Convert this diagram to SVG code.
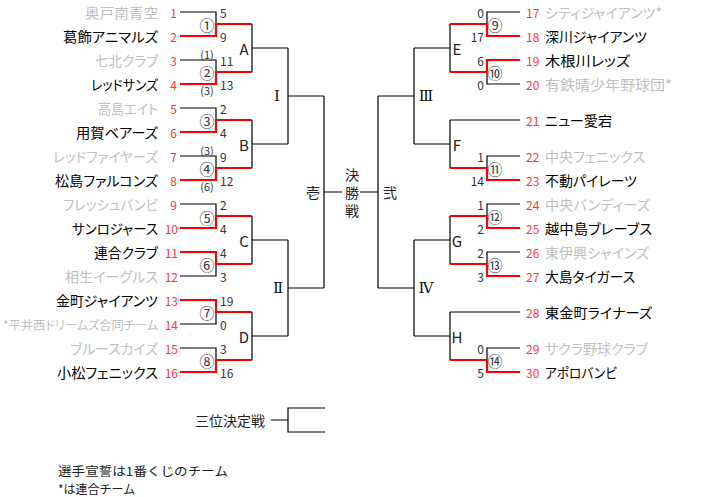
<svg xmlns="http://www.w3.org/2000/svg" width="703" height="497" viewBox="0 0 703 497">
<style>
text{font-family:"Noto Sans CJK JP","Noto Sans",sans-serif;dominant-baseline:central}
.nm{font-size:14px;fill:#000;font-feature-settings:"palt"}
.ls{fill:#c0c0c0}
.l{text-anchor:end}
.no{font-size:12px;fill:#ff3333}
.sc{font-size:12px;fill:#333}
.ci{font-size:15px;fill:#333;text-anchor:middle}
.pa{font-size:11px;fill:#333;text-anchor:middle}
.gl{font-size:15px;fill:#222;text-anchor:middle}
.rn{font-family:"DejaVu Serif","Liberation Serif",serif;font-size:15px;fill:#111;text-anchor:middle}
.k{font-size:14px;fill:#222;text-anchor:middle}
.lg{font-size:12px;fill:#222}
.bk{fill:none;stroke:#000;stroke-width:1.2}
.rd{fill:none;stroke:#ff0000;stroke-width:2.2}
</style>
<rect width="703" height="497" fill="#fff"/>
<g id="connectors">
<path class="bk" d="M180,12H216V24 M180,60H216V72 M180,108H216V120 M180,156H216V168 M180,204H216V216 M180,276H216V264 M180,324H216V312 M180,348H216V360"/>
<path class="bk" d="M252,24V72 M252,120V168 M252,216V264 M252,312V360 M252,48H288 M252,144H288 M252,240H288 M252,336H288 M288,48V144 M288,240V336 M288,96H324 M288,288H324 M324,96V288 M324,192H342 M360,192H378 M378,96V288"/>
<path class="rd" d="M180,36H216V24H252 M180,84H216V72H252 M180,132H216V120H252 M180,180H216V168H252 M180,228H216V216H252 M180,252H216V264H252 M180,300H216V312H252 M180,372H216V360H252"/>
<path class="bk" d="M520,12H487V24 M520,84H487V72 M520,156H487V168 M520,204H487V216 M520,252H487V264 M520,348H487V360 M520,120H450 M520,312H450"/>
<path class="bk" d="M450,24V72 M450,120V168 M450,216V264 M450,312V360 M450,48H414 M450,144H414 M450,240H414 M450,336H414 M414,48V144 M414,240V336 M414,96H378 M414,288H378"/>
<path class="rd" d="M520,36H487V24H450 M520,60H487V72H450 M520,180H487V168H450 M520,228H487V216H450 M520,276H487V264H450 M520,372H487V360H450"/>
<path class="bk" d="M271,420H288 M325,408H288V432H325"/>
</g>
<g id="left-teams">
<g id="t1"><text class="nm ls l" x="158" y="12" textLength="73" lengthAdjust="spacingAndGlyphs">奥戸南青空</text><text class="no l" x="177" y="12">1</text></g>
<g id="t2"><text class="nm l" x="158" y="36" textLength="95" lengthAdjust="spacingAndGlyphs">葛飾アニマルズ</text><text class="no l" x="177" y="36">2</text></g>
<g id="t3"><text class="nm ls l" x="158" y="60" textLength="63" lengthAdjust="spacingAndGlyphs">七北クラブ</text><text class="no l" x="177" y="60">3</text></g>
<g id="t4"><text class="nm l" x="158" y="84" textLength="67" lengthAdjust="spacingAndGlyphs">レッドサンズ</text><text class="no l" x="177" y="84">4</text></g>
<g id="t5"><text class="nm ls l" x="158" y="108" textLength="60" lengthAdjust="spacingAndGlyphs">高島エイト</text><text class="no l" x="177" y="108">5</text></g>
<g id="t6"><text class="nm l" x="158" y="132" textLength="82" lengthAdjust="spacingAndGlyphs">用賀ベアーズ</text><text class="no l" x="177" y="132">6</text></g>
<g id="t7"><text class="nm ls l" x="158" y="156" textLength="105" lengthAdjust="spacingAndGlyphs">レッドファイヤーズ</text><text class="no l" x="177" y="156">7</text></g>
<g id="t8"><text class="nm l" x="158" y="180" textLength="103" lengthAdjust="spacingAndGlyphs">松島ファルコンズ</text><text class="no l" x="177" y="180">8</text></g>
<g id="t9"><text class="nm ls l" x="158" y="204" textLength="95" lengthAdjust="spacingAndGlyphs">フレッシュバンビ</text><text class="no l" x="177" y="204">9</text></g>
<g id="t10"><text class="nm l" x="158" y="228" textLength="86" lengthAdjust="spacingAndGlyphs">サンロジャース</text><text class="no l" x="178" y="228">10</text></g>
<g id="t11"><text class="nm l" x="158" y="252" textLength="64" lengthAdjust="spacingAndGlyphs">連合クラブ</text><text class="no l" x="178" y="252">11</text></g>
<g id="t12"><text class="nm ls l" x="158" y="276" textLength="93" lengthAdjust="spacingAndGlyphs">相生イーグルス</text><text class="no l" x="178" y="276">12</text></g>
<g id="t13"><text class="nm l" x="158" y="300" textLength="102" lengthAdjust="spacingAndGlyphs">金町ジャイアンツ</text><text class="no l" x="178" y="300">13</text></g>
<g id="t14"><text class="nm ls l" x="158" y="324" textLength="155" lengthAdjust="spacingAndGlyphs" style="font-size:12.5px">*平井西ドリームズ合同チーム</text><text class="no l" x="178" y="324">14</text></g>
<g id="t15"><text class="nm ls l" x="158" y="348" textLength="88" lengthAdjust="spacingAndGlyphs">ブルースカイズ</text><text class="no l" x="178" y="348">15</text></g>
<g id="t16"><text class="nm l" x="158" y="372" textLength="101" lengthAdjust="spacingAndGlyphs">小松フェニックス</text><text class="no l" x="178" y="372">16</text></g>
</g>
<g id="right-teams">
<g id="t17"><text class="no" x="526" y="12">17</text><text class="nm ls" x="545" y="12" textLength="117" lengthAdjust="spacingAndGlyphs">シティジャイアンツ*</text></g>
<g id="t18"><text class="no" x="526" y="36">18</text><text class="nm" x="545" y="36" textLength="102" lengthAdjust="spacingAndGlyphs">深川ジャイアンツ</text></g>
<g id="t19"><text class="no" x="526" y="60">19</text><text class="nm" x="545" y="60" textLength="85" lengthAdjust="spacingAndGlyphs">木根川レッズ</text></g>
<g id="t20"><text class="no" x="526" y="84">20</text><text class="nm ls" x="545" y="84" textLength="127" lengthAdjust="spacingAndGlyphs">有鉄晴少年野球団*</text></g>
<g id="t21"><text class="no" x="526" y="120">21</text><text class="nm" x="545" y="120" textLength="67" lengthAdjust="spacingAndGlyphs">ニュー愛宕</text></g>
<g id="t22"><text class="no" x="526" y="156">22</text><text class="nm ls" x="545" y="156" textLength="100" lengthAdjust="spacingAndGlyphs">中央フェニックス</text></g>
<g id="t23"><text class="no" x="526" y="180">23</text><text class="nm" x="545" y="180" textLength="92" lengthAdjust="spacingAndGlyphs">不動パイレーツ</text></g>
<g id="t24"><text class="no" x="526" y="204">24</text><text class="nm ls" x="545" y="204" textLength="105" lengthAdjust="spacingAndGlyphs">中央バンディーズ</text></g>
<g id="t25"><text class="no" x="526" y="228">25</text><text class="nm" x="545" y="228" textLength="107" lengthAdjust="spacingAndGlyphs">越中島ブレーブス</text></g>
<g id="t26"><text class="no" x="526" y="252">26</text><text class="nm ls" x="545" y="252" textLength="104" lengthAdjust="spacingAndGlyphs">東伊興シャインズ</text></g>
<g id="t27"><text class="no" x="526" y="276">27</text><text class="nm" x="545" y="276" textLength="90" lengthAdjust="spacingAndGlyphs">大島タイガース</text></g>
<g id="t28"><text class="no" x="526" y="312">28</text><text class="nm" x="545" y="312" textLength="107" lengthAdjust="spacingAndGlyphs">東金町ライナーズ</text></g>
<g id="t29"><text class="no" x="526" y="348">29</text><text class="nm ls" x="545" y="348" textLength="103" lengthAdjust="spacingAndGlyphs">サクラ野球クラブ</text></g>
<g id="t30"><text class="no" x="526" y="372">30</text><text class="nm" x="545" y="372" textLength="72" lengthAdjust="spacingAndGlyphs">アポロバンビ</text></g>
</g>
<g id="scores">
<text class="sc" x="220" y="12">5</text><text class="sc" x="220" y="36">9</text>
<text class="sc" x="220" y="60">11</text><text class="sc" x="220" y="84">13</text>
<text class="sc" x="220" y="108">2</text><text class="sc" x="220" y="132">4</text>
<text class="sc" x="220" y="156">9</text><text class="sc" x="220" y="180">12</text>
<text class="sc" x="220" y="204">2</text><text class="sc" x="220" y="228">4</text>
<text class="sc" x="220" y="252">4</text><text class="sc" x="220" y="276">3</text>
<text class="sc" x="220" y="300">19</text><text class="sc" x="220" y="324">0</text>
<text class="sc" x="220" y="348">3</text><text class="sc" x="220" y="372">16</text>
<text class="sc l" x="484" y="12">0</text><text class="sc l" x="484" y="36">17</text>
<text class="sc l" x="484" y="60">6</text><text class="sc l" x="484" y="84">0</text>
<text class="sc l" x="484" y="156">1</text><text class="sc l" x="484" y="180">14</text>
<text class="sc l" x="484" y="204">1</text><text class="sc l" x="484" y="228">2</text>
<text class="sc l" x="484" y="252">2</text><text class="sc l" x="484" y="276">3</text>
<text class="sc l" x="484" y="348">0</text><text class="sc l" x="484" y="372">5</text>
<text class="pa" x="207" y="54">(1)</text><text class="pa" x="207" y="90">(3)</text>
<text class="pa" x="207" y="150">(3)</text><text class="pa" x="207" y="186">(6)</text>
</g>
<g id="matches">
<text class="ci" x="207" y="24">①</text><text class="ci" x="207" y="72">②</text>
<text class="ci" x="207" y="120">③</text><text class="ci" x="207" y="168">④</text>
<text class="ci" x="207" y="217">⑤</text><text class="ci" x="207" y="264">⑥</text>
<text class="ci" x="207" y="312">⑦</text><text class="ci" x="207" y="360">⑧</text>
<text class="ci" x="495" y="24">⑨</text><text class="ci" x="495" y="72">⑩</text>
<text class="ci" x="495" y="168">⑪</text><text class="ci" x="495" y="216">⑫</text>
<text class="ci" x="495" y="264">⑬</text><text class="ci" x="495" y="360">⑭</text>
</g>
<g id="blocks">
<text class="gl" x="244" y="48">A</text><text class="gl" x="244" y="144">B</text>
<text class="gl" x="244" y="240">C</text><text class="gl" x="244" y="336">D</text>
<text class="gl" x="457" y="48">E</text><text class="gl" x="457" y="144">F</text>
<text class="gl" x="457" y="240">G</text><text class="gl" x="457" y="336">H</text>
<text class="rn" x="277" y="96">Ⅰ</text><text class="rn" x="278" y="288">Ⅱ</text>
<text class="rn" x="426" y="96">Ⅲ</text><text class="rn" x="426" y="288">Ⅳ</text>
</g>
<g id="final">
<text class="k" x="313" y="192">壱</text>
<text class="k" x="390" y="192">弐</text>
<text x="352" y="168" style="font-size:14px;fill:#222;writing-mode:vertical-rl;letter-spacing:4px">決勝戦</text>
</g>
<g id="third">
<text class="k" x="230" y="420">三位決定戦</text>
</g>
<g id="legend">
<text class="lg" x="58" y="470" textLength="170" lengthAdjust="spacingAndGlyphs">選手宣誓は1番くじのチーム</text>
<text class="lg" x="58" y="488">*は連合チーム</text>
</g>
</svg>
